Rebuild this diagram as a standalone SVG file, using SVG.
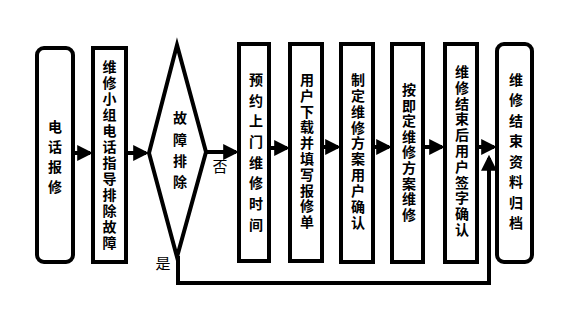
<svg xmlns="http://www.w3.org/2000/svg" width="581" height="314" viewBox="0 0 581 314">
<defs>
<marker id="ah" markerWidth="4" markerHeight="4" refX="3.2" refY="2" orient="auto" markerUnits="strokeWidth">
<path d="M0,0 L4,2 L0,4 Z" fill="#000"/>
</marker>
<style>
.box{fill:#fff;stroke:#000;stroke-width:4}
.t{font-family:"Liberation Sans","Noto Sans CJK SC","Noto Sans CJK JP",sans-serif;font-size:14px;font-weight:bold;fill:#000;text-anchor:middle}
.l{font-family:"Liberation Sans","Noto Sans CJK SC","Noto Sans CJK JP",sans-serif;font-size:15px;fill:#000;text-anchor:middle}
.c{fill:none;stroke:#000;stroke-width:4}
</style>
</defs>
<rect width="581" height="314" fill="#fff"/>
<g id="connectors">
<line class="c" x1="74" y1="153" x2="90" y2="153" marker-end="url(#ah)"/>
<line class="c" x1="127" y1="153" x2="146" y2="153" marker-end="url(#ah)"/>
<line class="c" x1="206" y1="152" x2="236" y2="152" marker-end="url(#ah)"/>
<line class="c" x1="270" y1="148" x2="287" y2="148" marker-end="url(#ah)"/>
<line class="c" x1="323" y1="147" x2="338" y2="147" marker-end="url(#ah)"/>
<line class="c" x1="374" y1="147" x2="389" y2="147" marker-end="url(#ah)"/>
<line class="c" x1="424" y1="147" x2="442" y2="147" marker-end="url(#ah)"/>
<line class="c" x1="478" y1="147" x2="494" y2="147" marker-end="url(#ah)"/>
<polyline class="c" points="178,256 178,283 489,283 489,158" marker-end="url(#ah)"/>
<text class="l" x="220" y="172">否</text>
<text class="l" x="163" y="269">是</text>
</g>
<g id="n1">
<rect class="box" x="37" y="48" width="36" height="214" rx="7"/>
<text class="t"><tspan x="55" y="132">电</tspan><tspan x="55" y="152">话</tspan><tspan x="55" y="172">报</tspan><tspan x="55" y="192">修</tspan></text>
</g>
<g id="n2">
<rect class="box" x="93" y="48" width="33" height="214"/>
<text class="t"><tspan x="109.5" y="72">维</tspan><tspan x="109.5" y="88">修</tspan><tspan x="109.5" y="104">小</tspan><tspan x="109.5" y="120">组</tspan><tspan x="109.5" y="136">电</tspan><tspan x="109.5" y="152">话</tspan><tspan x="109.5" y="168">指</tspan><tspan x="109.5" y="184">导</tspan><tspan x="109.5" y="200">排</tspan><tspan x="109.5" y="216">除</tspan><tspan x="109.5" y="232">故</tspan><tspan x="109.5" y="248">障</tspan></text>
</g>
<g id="n3">
<polygon class="box" points="177,45 206,152 177,257 149,153" stroke-linejoin="miter"/>
<text class="t"><tspan x="180" y="123">故</tspan><tspan x="180" y="145">障</tspan><tspan x="180" y="166">排</tspan><tspan x="180" y="187">除</tspan></text>
</g>
<g id="n4">
<rect class="box" x="239" y="44" width="30" height="217"/>
<text class="t"><tspan x="256" y="85">预</tspan><tspan x="256" y="106">约</tspan><tspan x="256" y="126">上</tspan><tspan x="256" y="147">门</tspan><tspan x="256" y="168">维</tspan><tspan x="256" y="188">修</tspan><tspan x="256" y="209">时</tspan><tspan x="256" y="230">间</tspan></text>
</g>
<g id="n5">
<rect class="box" x="290" y="44" width="32" height="217"/>
<text class="t"><tspan x="307" y="85">用</tspan><tspan x="307" y="101">户</tspan><tspan x="307" y="117">下</tspan><tspan x="307" y="132">载</tspan><tspan x="307" y="148">并</tspan><tspan x="307" y="164">填</tspan><tspan x="307" y="180">写</tspan><tspan x="307" y="196">报</tspan><tspan x="307" y="211">修</tspan><tspan x="307" y="227">单</tspan></text>
</g>
<g id="n6">
<rect class="box" x="341" y="44" width="32" height="218"/>
<text class="t"><tspan x="358" y="85">制</tspan><tspan x="358" y="101">定</tspan><tspan x="358" y="117">维</tspan><tspan x="358" y="133">修</tspan><tspan x="358" y="148">方</tspan><tspan x="358" y="164">案</tspan><tspan x="358" y="180">用</tspan><tspan x="358" y="196">户</tspan><tspan x="358" y="212">确</tspan><tspan x="358" y="228">认</tspan></text>
</g>
<g id="n7">
<rect class="box" x="392" y="44" width="31" height="218"/>
<text class="t"><tspan x="409" y="95">按</tspan><tspan x="409" y="111">即</tspan><tspan x="409" y="126">定</tspan><tspan x="409" y="142">维</tspan><tspan x="409" y="157">修</tspan><tspan x="409" y="173">方</tspan><tspan x="409" y="189">案</tspan><tspan x="409" y="204">维</tspan><tspan x="409" y="220">修</tspan></text>
</g>
<g id="n8">
<rect class="box" x="445" y="44" width="32" height="218"/>
<text class="t"><tspan x="462" y="77">维</tspan><tspan x="462" y="93">修</tspan><tspan x="462" y="109">结</tspan><tspan x="462" y="124">束</tspan><tspan x="462" y="140">后</tspan><tspan x="462" y="156">用</tspan><tspan x="462" y="172">户</tspan><tspan x="462" y="188">签</tspan><tspan x="462" y="203">字</tspan><tspan x="462" y="219">确</tspan><tspan x="462" y="235">认</tspan></text>
</g>
<g id="n9">
<rect class="box" x="497" y="44" width="35" height="218" rx="7"/>
<text class="t"><tspan x="516" y="85">维</tspan><tspan x="516" y="105">修</tspan><tspan x="516" y="126">结</tspan><tspan x="516" y="146">束</tspan><tspan x="516" y="167">资</tspan><tspan x="516" y="187">料</tspan><tspan x="516" y="208">归</tspan><tspan x="516" y="228">档</tspan></text>
</g>
</svg>
